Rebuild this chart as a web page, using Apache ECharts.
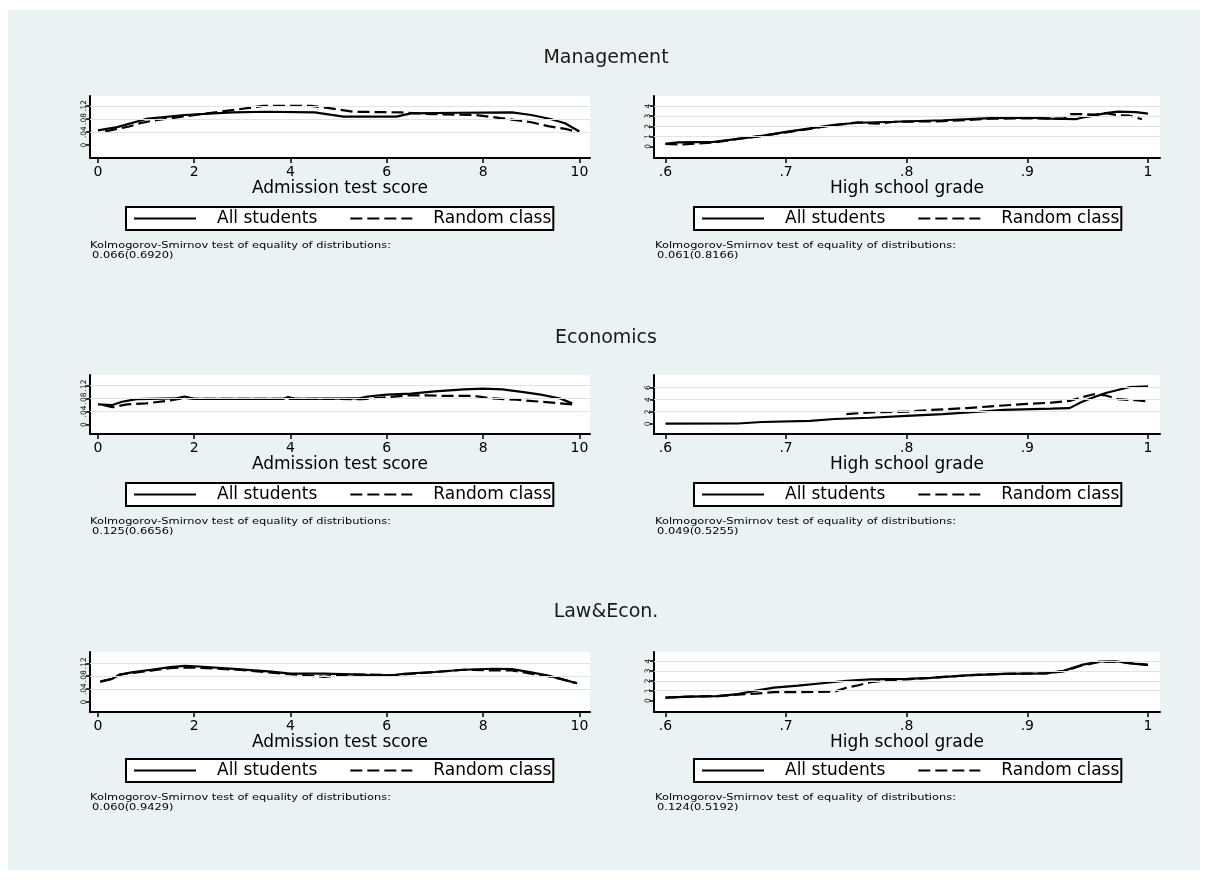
<!DOCTYPE html>
<html><head><meta charset="utf-8">
<script src="https://cdn.jsdelivr.net/npm/echarts@6/dist/echarts.min.js"></script>
<style>html,body{margin:0;padding:0;background:#fff}#c{width:1209px;height:882px}</style>
</head><body><div id="c"></div>
<script>
// ---------------- data ----------------
const panelTitles = ['Management', 'Economics', 'Law&Econ.'];
const seriesNames = ['All students', 'Random class'];
const scoreAxisTitle = 'Admission test score';
const gradeAxisTitle = 'High school grade';
const ksHeader = 'Kolmogorov-Smirnov test of equality of distributions:';
const ksScore = ['0.066(0.6920)', '0.125(0.6656)', '0.060(0.9429)'];
const ksGrade = ['0.061(0.8166)', '0.049(0.5255)', '0.124(0.5192)'];

const scoreTicks = [0, 2, 4, 6, 8, 10];
const gradeTicks = [0.6, 0.7, 0.8, 0.9, 1];
const scoreDensityTicks = [0, 0.04, 0.08, 0.12];
const mgmtGradeDensityTicks = [0, 1, 2, 3, 4];
const econGradeDensityTicks = [0, 2, 4, 6];
const lawGradeDensityTicks = [0, 1, 2, 3, 4];

// Management - admission test score
const mgmtScoreAllX = [0, 0.4, 1, 1.8, 2.8, 3.5, 4.5, 5.1, 6.2, 6.5, 7.5, 8.6, 9, 9.4, 9.7, 10];
const mgmtScoreAllY = [0.045, 0.055, 0.08, 0.092, 0.1, 0.102, 0.1, 0.087, 0.087, 0.097, 0.099, 0.1, 0.092, 0.08, 0.067, 0.042];
const mgmtScoreRndX = [0.15, 0.65, 0.9, 1.15, 2.15, 2.86, 3.43, 4.43, 4.8, 5.3, 6.3, 6.9, 7.85, 8.4, 9.0, 9.35, 9.7, 9.97];
const mgmtScoreRndY = [0.042, 0.057, 0.068, 0.075, 0.095, 0.108, 0.12, 0.12, 0.113, 0.102, 0.1, 0.095, 0.092, 0.082, 0.07, 0.058, 0.05, 0.04];
// Management - high school grade
const mgmtGradeAllX = [0.6, 0.61, 0.64, 0.66, 0.68, 0.7, 0.72, 0.74, 0.76, 0.79, 0.83, 0.87, 0.9, 0.92, 0.94, 0.945, 0.955, 0.965, 0.975, 0.99, 1];
const mgmtGradeAllY = [0.25, 0.4, 0.45, 0.75, 1.05, 1.45, 1.8, 2.15, 2.35, 2.45, 2.6, 2.8, 2.85, 2.75, 2.7, 2.85, 3.05, 3.3, 3.45, 3.4, 3.25];
const mgmtGradeRndX = [0.6, 0.615, 0.64, 0.66, 0.68, 0.7, 0.72, 0.74, 0.76, 0.775, 0.79, 0.83, 0.87, 0.9, 0.93, 0.935, 0.945, 0.955, 0.965, 0.975, 0.985, 0.995];
const mgmtGradeRndY = [0.25, 0.2, 0.4, 0.75, 1.05, 1.4, 1.75, 2.1, 2.4, 2.25, 2.45, 2.5, 2.75, 2.8, 2.75, 3.2, 3.2, 3.15, 3.3, 3.1, 3.05, 2.7];
// Economics - admission test score
const econScoreAllX = [0, 0.3, 0.5, 0.8, 1.6, 1.8, 2.0, 3.85, 3.95, 4.1, 5.4, 5.6, 6.0, 6.5, 7.0, 7.6, 8.0, 8.4, 8.8, 9.2, 9.6, 9.85];
const econScoreAllY = [0.062, 0.06, 0.07, 0.078, 0.08, 0.086, 0.079, 0.079, 0.084, 0.079, 0.08, 0.086, 0.092, 0.095, 0.102, 0.108, 0.11, 0.108, 0.1, 0.092, 0.08, 0.065];
const econScoreRndX = [0.1, 0.3, 0.6, 1.0, 1.4, 1.8, 2.0, 4.0, 5.5, 6.0, 6.5, 7.2, 7.8, 8.2, 8.7, 9.2, 9.6, 9.85];
const econScoreRndY = [0.06, 0.053, 0.062, 0.065, 0.072, 0.082, 0.079, 0.079, 0.078, 0.084, 0.09, 0.088, 0.088, 0.08, 0.076, 0.07, 0.065, 0.062];
// Economics - high school grade
const econGradeAllX = [0.6, 0.66, 0.68, 0.72, 0.74, 0.77, 0.8, 0.83, 0.86, 0.88, 0.92, 0.935, 0.945, 0.955, 0.965, 0.975, 0.985, 1];
const econGradeAllY = [0.02, 0.05, 0.3, 0.5, 0.8, 1.0, 1.3, 1.6, 2.0, 2.3, 2.5, 2.6, 3.6, 4.4, 5.1, 5.6, 6.1, 6.2];
const econGradeRndX = [0.75, 0.77, 0.8, 0.82, 0.85, 0.87, 0.9, 0.92, 0.935, 0.945, 0.955, 0.965, 0.975, 0.99, 1];
const econGradeRndY = [1.6, 1.9, 2.0, 2.3, 2.6, 2.9, 3.3, 3.5, 3.8, 4.4, 4.9, 4.7, 4.1, 3.9, 3.7];
// Law & Economics - admission test score
const lawScoreAllX = [0.05, 0.3, 0.45, 0.7, 1.1, 1.5, 1.8, 2.1, 2.9, 3.6, 4.0, 4.7, 5.6, 6.1, 6.4, 7.0, 7.6, 8.2, 8.6, 9.0, 9.35, 9.65, 9.95];
const lawScoreAllY = [0.063, 0.072, 0.085, 0.092, 0.1, 0.108, 0.112, 0.11, 0.102, 0.094, 0.088, 0.088, 0.084, 0.083, 0.088, 0.093, 0.1, 0.103, 0.102, 0.092, 0.082, 0.07, 0.058];
const lawScoreRndX = [0.05, 0.3, 0.45, 0.7, 1.1, 1.5, 1.8, 2.1, 2.9, 3.6, 4.0, 4.7, 5.2, 5.6, 6.1, 6.4, 7.0, 7.6, 8.2, 8.6, 9.0, 9.35, 9.65, 9.95];
const lawScoreRndY = [0.063, 0.072, 0.085, 0.09, 0.097, 0.105, 0.107, 0.106, 0.1, 0.091, 0.086, 0.078, 0.085, 0.085, 0.083, 0.086, 0.093, 0.1, 0.098, 0.098, 0.088, 0.08, 0.07, 0.058];
// Law & Economics - high school grade
const lawGradeAllX = [0.6, 0.62, 0.643, 0.66, 0.675, 0.69, 0.71, 0.73, 0.75, 0.77, 0.8, 0.82, 0.85, 0.88, 0.915, 0.93, 0.945, 0.96, 0.975, 0.985, 1];
const lawGradeAllY = [0.3, 0.4, 0.45, 0.65, 1.0, 1.3, 1.5, 1.75, 2.0, 2.15, 2.2, 2.3, 2.55, 2.7, 2.75, 3.0, 3.6, 3.95, 3.95, 3.75, 3.6];
const lawGradeRndX = [0.6, 0.62, 0.643, 0.66, 0.675, 0.69, 0.71, 0.74, 0.75, 0.76, 0.77, 0.79, 0.8, 0.82, 0.85, 0.88, 0.915, 0.93, 0.945, 0.96, 0.975, 0.985, 1];
const lawGradeRndY = [0.3, 0.4, 0.45, 0.6, 0.7, 0.85, 0.85, 0.9, 1.3, 1.55, 1.85, 2.1, 2.15, 2.3, 2.55, 2.7, 2.75, 2.95, 3.55, 3.9, 3.95, 3.8, 3.6];

// ---------------- layout ----------------
const FONT = 'DejaVu Sans';
const TEXT = '#000';
const rowLayout = [
  { top: 96, height: 62, titleY: 58, legendTop: 207, ksY: 246, sMin: -0.039, sMax: 0.15, gMin: -1.14, gMax: 5.0 },
  { top: 375, height: 59, titleY: 338, legendTop: 483, ksY: 522, sMin: -0.029, sMax: 0.152, gMin: -1.69, gMax: 8.09 },
  { top: 652, height: 60, titleY: 612, legendTop: 759, ksY: 798, sMin: -0.031, sMax: 0.155, gMin: -1.16, gMax: 4.91 }
];
const colLayout = [
  { left: 90, width: 500, xMin: -0.165, xMax: 10.22, legendLeft: 126, ksX: 90 },
  { left: 654, width: 506, xMin: 0.5905, xMax: 1.01, legendLeft: 694, ksX: 655 }
];

const panels = [
  [ {allX: mgmtScoreAllX, allY: mgmtScoreAllY, rndX: mgmtScoreRndX, rndY: mgmtScoreRndY, xt: scoreTicks, yt: scoreDensityTicks, name: scoreAxisTitle, ks: ksScore[0]},
    {allX: mgmtGradeAllX, allY: mgmtGradeAllY, rndX: mgmtGradeRndX, rndY: mgmtGradeRndY, xt: gradeTicks, yt: mgmtGradeDensityTicks, name: gradeAxisTitle, ks: ksGrade[0]} ],
  [ {allX: econScoreAllX, allY: econScoreAllY, rndX: econScoreRndX, rndY: econScoreRndY, xt: scoreTicks, yt: scoreDensityTicks, name: scoreAxisTitle, ks: ksScore[1]},
    {allX: econGradeAllX, allY: econGradeAllY, rndX: econGradeRndX, rndY: econGradeRndY, xt: gradeTicks, yt: econGradeDensityTicks, name: gradeAxisTitle, ks: ksGrade[1]} ],
  [ {allX: lawScoreAllX, allY: lawScoreAllY, rndX: lawScoreRndX, rndY: lawScoreRndY, xt: scoreTicks, yt: scoreDensityTicks, name: scoreAxisTitle, ks: ksScore[2]},
    {allX: lawGradeAllX, allY: lawGradeAllY, rndX: lawGradeRndX, rndY: lawGradeRndY, xt: gradeTicks, yt: lawGradeDensityTicks, name: gradeAxisTitle, ks: ksGrade[2]} ]
];

const zip = (xs, ys) => xs.map((x, i) => [x, ys[i]]);
const stataNum = v => { const s = String(+v.toFixed(4)); return s.replace(/^0\./, '.').replace(/^-0\./, '-.'); };

const grid = [], xAxis = [], yAxis = [], series = [], legend = [], graphic = [];

graphic.push({ type: 'rect', z: -10, silent: true, shape: { x: 8, y: 10, width: 1192, height: 860 }, style: { fill: '#eaf2f3' } });

let idx = 0;
rowLayout.forEach((row, r) => {
  graphic.push({ type: 'text', x: 606, y: row.titleY, silent: true,
    style: { text: panelTitles[r], fontFamily: FONT, fontSize: 19, fill: '#1a1a1a', align: 'center', verticalAlign: 'middle' } });
  colLayout.forEach((col, c) => {
    const p = panels[r][c];
    grid.push({ left: col.left, top: row.top, width: col.width, height: row.height, show: true, backgroundColor: '#ffffff', borderWidth: 0, containLabel: false });
    xAxis.push({
      type: 'value', gridIndex: idx, min: col.xMin, max: col.xMax,
      name: p.name, nameLocation: 'middle', nameGap: 19,
      nameTextStyle: { fontFamily: FONT, fontSize: 17, color: TEXT },
      axisLine: { show: true, onZero: false, lineStyle: { color: '#000', width: 2 } },
      axisTick: { show: true, length: 5, lineStyle: { color: '#000', width: 1.5 }, customValues: p.xt },
      axisLabel: { show: true, margin: 7, fontFamily: FONT, fontSize: 14, color: TEXT, customValues: p.xt, formatter: v => stataNum(v) },
      splitLine: { show: false }
    });
    const ymin = c === 0 ? row.sMin : row.gMin;
    const ymax = c === 0 ? row.sMax : row.gMax;
    yAxis.push({
      type: 'value', gridIndex: idx, min: ymin, max: ymax,
      axisLine: { show: true, onZero: false, lineStyle: { color: '#000', width: 2 } },
      axisTick: { show: true, length: 4, lineStyle: { color: '#000', width: 1.5 }, customValues: p.yt },
      axisLabel: { show: true, margin: 2, rotate: 90, fontFamily: FONT, fontSize: 7.5, color: TEXT, customValues: p.yt, formatter: v => stataNum(v) },
      splitLine: { show: false }
    });
    // horizontal grid lines at the non-zero y ticks
    series.push({
      type: 'line', name: 'gridlines', xAxisIndex: idx, yAxisIndex: idx, data: [], z: 1, silent: true,
      markLine: { silent: true, symbol: 'none', label: { show: false }, animation: false,
        lineStyle: { color: '#dbe6e9', width: 1.2, type: 'solid' },
        data: p.yt.filter(v => v !== 0).map(v => ({ yAxis: v })) }
    });
    series.push({
      type: 'line', name: seriesNames[0], xAxisIndex: idx, yAxisIndex: idx, z: 3,
      data: zip(p.allX, p.allY), symbol: 'none', clip: false,
      lineStyle: { color: '#000', width: 2.2, type: 'solid' }, itemStyle: { color: '#000' }
    });
    series.push({
      type: 'line', name: seriesNames[1], xAxisIndex: idx, yAxisIndex: idx, z: 3,
      data: zip(p.rndX, p.rndY), symbol: 'none', clip: false,
      lineStyle: { color: '#000', width: 2.2, type: [12, 5] }, itemStyle: { color: '#000' }
    });
    legend.push({
      left: col.legendLeft, top: row.legendTop, orient: 'horizontal',
      data: seriesNames, selectedMode: false,
      backgroundColor: '#ffffff', borderColor: '#000', borderWidth: 2, borderRadius: 0,
      padding: [3, 2, 3, 7], itemWidth: 62, itemHeight: 14, itemGap: 32,
      itemStyle: { opacity: 0, color: 'rgba(0,0,0,0)', borderColor: 'rgba(0,0,0,0)', borderWidth: 0 },
      lineStyle: { width: 2 },
      textStyle: { fontFamily: FONT, fontSize: 17, color: TEXT, padding: [0, 0, 0, 16] }
    });
    graphic.push({ type: 'text', x: col.ksX, y: row.ksY, silent: true, scaleX: 1.2, originX: 0, originY: 0,
      style: { text: ksHeader, fontFamily: FONT, fontSize: 9.5, fill: TEXT, align: 'left', verticalAlign: 'middle' } });
    graphic.push({ type: 'text', x: col.ksX + 2, y: row.ksY + 10, silent: true, scaleX: 1.2, originX: 0, originY: 0,
      style: { text: p.ks, fontFamily: FONT, fontSize: 9.5, fill: TEXT, align: 'left', verticalAlign: 'middle' } });
    idx++;
  });
});

const chart = echarts.init(document.getElementById('c'), null, { renderer: 'canvas' });
chart.setOption({
  backgroundColor: '#ffffff',
  animation: false,
  grid, xAxis, yAxis, series, legend, graphic
});
</script>
</body></html>
